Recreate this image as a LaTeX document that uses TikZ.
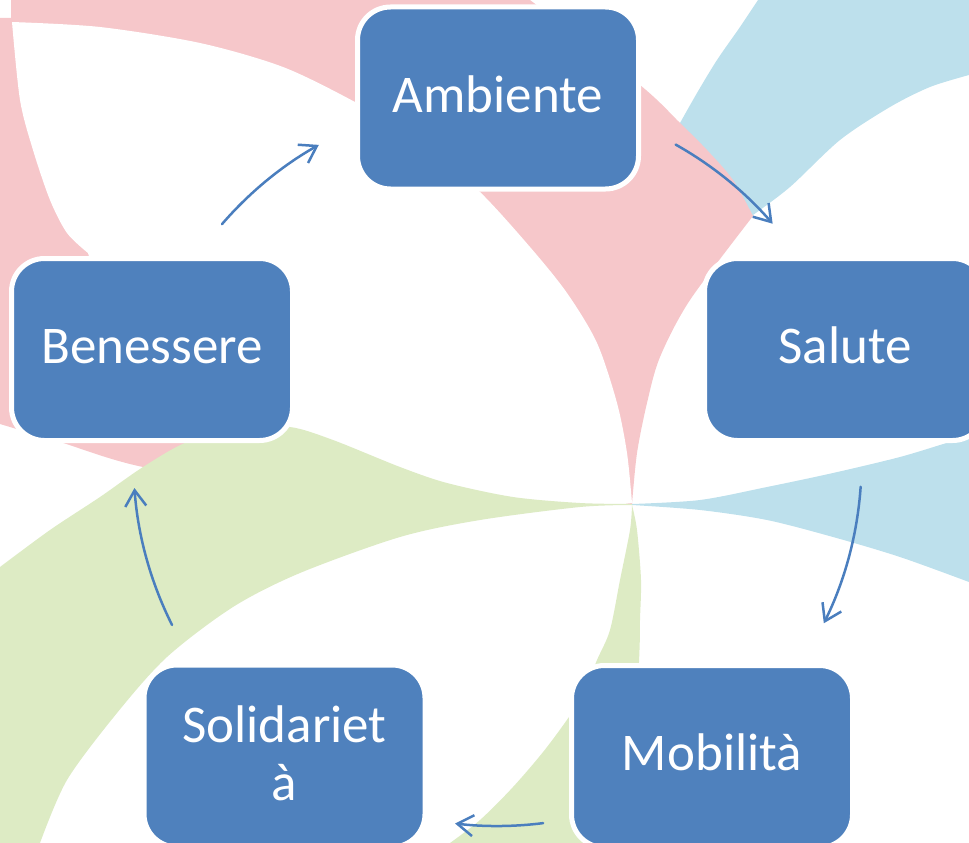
\documentclass[tikz,border=0pt]{standalone}
\usepackage{fontspec}
\setmainfont{Carlito}
\usetikzlibrary{arrows.meta}
\definecolor{blubox}{RGB}{79,129,189}
\definecolor{blufreccia}{RGB}{74,126,190}
\definecolor{rosa}{RGB}{246,199,202}
\definecolor{celeste}{RGB}{189,224,236}
\definecolor{verde}{RGB}{221,235,196}

\begin{document}
\begin{tikzpicture}[x=1pt,y=-1pt,line cap=round]
	\tikzstyle{ciclo}=[rectangle,rounded corners=33pt,draw=white,line width=5pt,fill=blubox,text=white,minimum width=281pt,minimum height=182pt,inner sep=0pt,align=center,text height=28pt,text depth=0pt,font=\fontsize{53}{58}\selectfont];
	\tikzstyle{freccia}=[draw=blufreccia,line width=2.5pt,-{Straight Barb[length=16pt,width=21pt]}];
	\tikzstyle{petalo1}=[fill=rosa];
	\tikzstyle{petalo2}=[fill=celeste];
	\tikzstyle{petalo3}=[fill=verde];

	\path[use as bounding box] (0,0) rectangle (969,843);
	\clip (0,0) rectangle (969,843);

	% sfondo a girandola
	\fill[petalo2] plot[smooth] coordinates {(753,215) (790,187) (840,140) (890,107) (930,87) (969,75)} -- (975,75) -- (975,-5) -- (758,-5)
		-- plot[smooth] coordinates {(758,0) (740,27) (717,60) (697,93) (680,123)} -- (700,200) -- cycle;
	\fill[petalo2] plot[smooth] coordinates {(632,504) (700,500) (767,487) (833,473) (900,457) (950,442) (975,436)} -- (975,585)
		-- plot[smooth] coordinates {(969,582) (900,557) (833,537) (767,520) (700,510) (632,505)} -- cycle;
	\fill[petalo1] plot[smooth] coordinates {(632,504) (637,453) (647,403) (660,357) (690,300) (753,216)}
		-- plot[smooth] coordinates {(753,216) (733,180) (707,150) (680,123) (640,85) (530,0)} -- (530,-5) -- (11,-5) -- (11,18) -- (-5,18) -- (-5,424)
		-- plot[smooth] coordinates {(0,424) (60,442) (143,467) (300,492) (450,502) (560,505) (632,504)} -- cycle;
	\fill[white] plot[smooth] coordinates {(12,22) (100,27) (200,43) (283,67) (355,102) (420,140) (480,192) (530,247) (567,293) (597,343) (617,403) (627,453) (632,503)}
		-- plot[smooth] coordinates {(632,503) (560,512) (450,525) (330,500) (250,455) (200,415) (130,340) (95,270) (88,253)}
		-- plot[smooth] coordinates {(88,253) (67,233) (50,200) (33,150) (20,100) (12,22)} -- cycle;
	\fill[petalo3] plot[smooth] coordinates {(0,567) (50,530) (100,497) (143,467) (187,442) (240,428) (290,427) (333,440) (400,467) (447,483) (513,497) (580,503) (632,504)}
		-- plot[smooth] coordinates {(632,505) (580,507) (480,520) (400,537) (300,573) (233,607) (167,657) (117,713) (67,780) (40,843)} -- (-5,848) -- (-5,567) -- cycle;
	\fill[petalo3] plot[smooth] coordinates {(632,505) (637,530) (641,580) (640,620) (639,662) (630,848)} -- (450,848)
		-- plot[smooth] coordinates {(450,843) (480,820) (513,787) (547,747) (580,700) (597,660) (610,630) (620,580) (630,530) (632,505)} -- cycle;

	% frecce del ciclo
	\coordinate (centro) at (497.5,462);
	\path (centro) ++(-139.2:364) coordinate (f1);
	\path (centro) ++(-60.7:364) coordinate (f2);
	\path (centro) ++(3.9:364) coordinate (f3);
	\path (centro) ++(82.8:364) coordinate (f4);
	\path (centro) ++(153.4:364) coordinate (f5);
	\draw[freccia] (f1) arc[start angle=-139.2,end angle=-119.4,radius=364];
	\draw[freccia] (f2) arc[start angle=-60.7,end angle=-40.9,radius=364];
	\draw[freccia] (f3) arc[start angle=3.9,end angle=26.3,radius=364];
	\draw[freccia] (f4) arc[start angle=82.8,end angle=96.7,radius=364];
	\draw[freccia] (f5) arc[start angle=153.4,end angle=175.9,radius=364];

	% nodi
	\node[ciclo] (ambiente) at (498,98) {Ambiente};
	\node[ciclo] (salute) at (845,349.5) {Salute};
	\node[ciclo] (mobilita) at (712,756.5) {Mobilità};
	\node[ciclo,text height=88pt] (solidarieta) at (284.5,756) {Solidariet\\à};
	\node[ciclo] (benessere) at (152,349.5) {Benessere};
\end{tikzpicture}
\end{document}
